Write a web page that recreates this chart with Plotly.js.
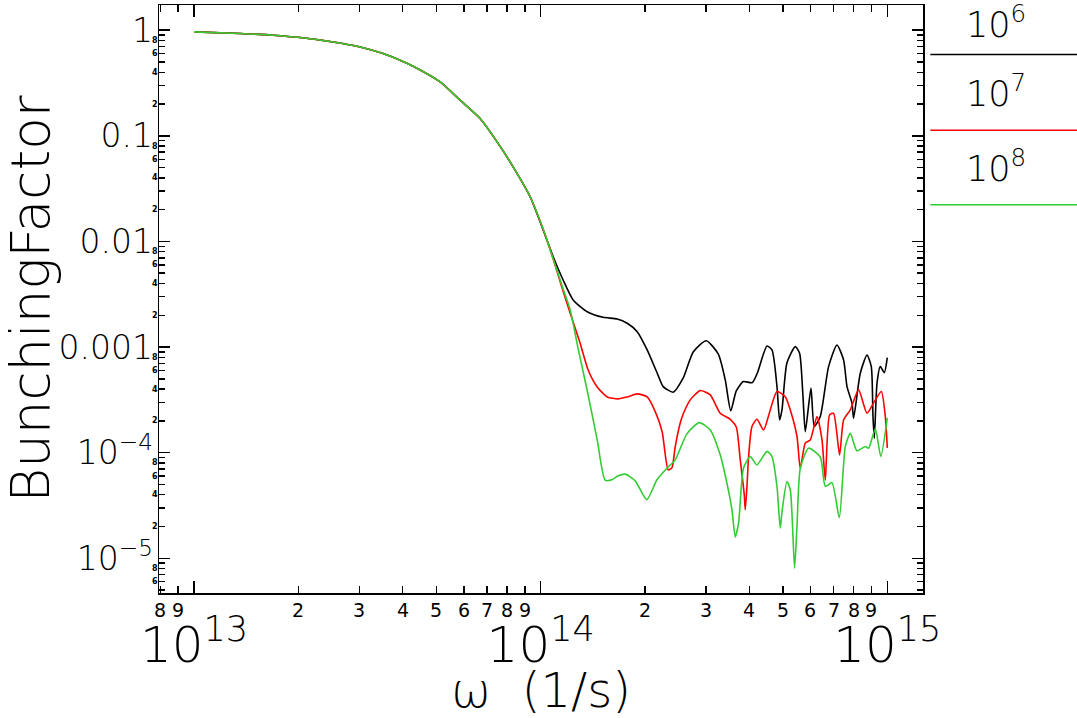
<!DOCTYPE html>
<html>
<head>
<meta charset="utf-8">
<script src="https://cdn.plot.ly/plotly-3.0.1.min.js"></script>
<style>
  html, body { margin: 0; padding: 0; background: #fff; }
  #chart { width: 1077px; height: 718px; }
</style>
</head>
<body>
<div id="chart"></div>
<script>
// low-frequency part, the three curves lie on top of each other here
const omegaCommon = [1.000e13, 1.358e13, 1.690e13, 2.023e13, 2.519e13, 3.014e13, 3.512e13, 3.931e13,
                     4.286e13, 5.129e13, 5.857e13, 6.690e13, 7.489e13, 8.328e13, 9.327e13];
const bunchCommon = [0.964, 0.931, 0.897, 0.853, 0.775, 0.695, 0.602, 0.520,
                     0.456, 0.324, 0.2176, 0.1461, 0.0877, 0.0509, 0.0265];

// 10^6 (black)
const omega6 = [1.017e14, 1.087e14, 1.161e14, 1.241e14, 1.362e14, 1.515e14, 1.663e14, 1.777e14, 1.899e14, 2.029e14,
                2.169e14, 2.257e14, 2.412e14, 2.578e14, 2.755e14, 3.004e14, 3.253e14, 3.408e14, 3.535e14, 3.667e14,
                3.841e14, 4.078e14, 4.216e14, 4.497e14, 4.649e14, 4.806e14, 4.890e14, 4.968e14, 5.135e14, 5.427e14,
                5.584e14, 5.712e14, 5.800e14, 6.024e14, 6.157e14, 6.408e14, 6.771e14, 7.159e14, 7.481e14, 7.652e14,
                7.910e14, 7.994e14, 8.358e14, 8.738e14, 8.991e14, 9.093e14, 9.173e14, 9.339e14, 9.545e14, 9.802e14,
                1.000e15];
const bunch6 = [0.01282, 0.00717, 0.004312, 0.002790, 0.002162, 0.001913, 0.001844, 0.001680, 0.001398, 0.000939,
                0.000565, 0.000422, 0.000374, 0.000510, 0.000899, 0.001149, 0.000860, 0.000488, 0.000249, 0.000384,
                0.000471, 0.000460, 0.000565, 0.001024, 0.000939, 0.000422, 0.000204, 0.000254, 0.000709, 0.001009,
                0.000874, 0.000339, 0.000158, 0.000408, 0.000177, 0.000220, 0.000653, 0.001047, 0.000755, 0.000422,
                0.000294, 0.000212, 0.000565, 0.000842, 0.000653, 0.000220, 0.000137, 0.000454, 0.000653, 0.000572,
                0.000794];

// 10^7 (red)
const omega7 = [1.017e14, 1.087e14, 1.151e14, 1.217e14, 1.300e14, 1.371e14, 1.456e14, 1.556e14, 1.674e14, 1.777e14,
                1.899e14, 2.029e14, 2.154e14, 2.242e14, 2.333e14, 2.391e14, 2.444e14, 2.526e14, 2.583e14, 2.701e14,
                2.886e14, 3.085e14, 3.296e14, 3.523e14, 3.667e14, 3.765e14, 3.867e14, 3.893e14, 3.937e14, 3.979e14,
                4.070e14, 4.207e14, 4.395e14, 4.596e14, 4.806e14, 5.077e14, 5.250e14, 5.488e14, 5.610e14, 5.800e14,
                5.995e14, 6.269e14, 6.481e14, 6.625e14, 6.817e14, 6.998e14, 7.283e14, 7.481e14, 7.821e14, 8.264e14,
                8.738e14, 9.131e14, 9.610e14, 9.868e14, 1.000e15];
const bunch7 = [0.01296, 0.006818, 0.003703, 0.002089, 0.001086, 0.000607, 0.000419, 0.000337, 0.000323, 0.000337,
                0.000360, 0.000337, 0.000233, 0.000157, 6.88e-5, 7.18e-5, 1.135e-4, 1.90e-4, 2.36e-4, 3.16e-4,
                3.87e-4, 3.52e-4, 2.36e-4, 2.07e-4, 1.75e-4, 8.55e-5, 3.99e-5, 2.88e-5, 4.78e-5, 9.09e-5,
                1.77e-4, 2.07e-4, 1.64e-4, 2.54e-4, 3.79e-4, 3.39e-4, 2.54e-4, 1.43e-4, 7.12e-5, 1.23e-4,
                1.32e-4, 2.20e-4, 1.32e-4, 5.50e-5, 2.28e-4, 2.36e-4, 9.53e-5, 2.04e-4, 2.54e-4, 3.93e-4,
                2.36e-4, 2.96e-4, 3.79e-4, 2.20e-4, 1.11e-4];

// 10^8 (green)
const omega8 = [1.017e14, 1.087e14, 1.161e14, 1.217e14, 1.285e14, 1.362e14, 1.456e14, 1.535e14, 1.605e14, 1.674e14,
                1.754e14, 1.874e14, 2.023e14, 2.165e14, 2.313e14, 2.444e14, 2.642e14, 2.867e14, 3.085e14, 3.296e14,
                3.446e14, 3.563e14, 3.642e14, 3.723e14, 3.849e14, 4.024e14, 4.207e14, 4.497e14, 4.649e14, 4.806e14,
                4.912e14, 4.977e14, 5.135e14, 5.250e14, 5.402e14, 5.488e14, 5.610e14, 5.928e14, 6.408e14, 6.625e14,
                6.924e14, 7.270e14, 7.565e14, 7.821e14, 8.177e14, 8.641e14, 8.834e14, 9.235e14, 9.577e14, 1.000e15];
const bunch8 = [0.01310, 0.006818, 0.003546, 0.002244, 0.000939, 0.00039, 0.000132, 5.50e-5, 5.53e-5, 6.03e-5,
                6.26e-5, 5.41e-5, 3.58e-5, 5.53e-5, 7.12e-5, 8.55e-5, 1.506e-4, 1.926e-4, 1.643e-4, 9.53e-5,
                5.14e-5, 2.88e-5, 1.59e-5, 2.15e-5, 7.18e-5, 9.17e-5, 7.66e-5, 1.029e-4, 9.19e-5, 4.78e-5,
                1.93e-5, 2.88e-5, 5.33e-5, 4.45e-5, 8.06e-6, 2.00e-5, 7.12e-5, 1.103e-4, 9.09e-5, 4.78e-5,
                5.20e-5, 2.42e-5, 1.142e-4, 1.529e-4, 1.040e-4, 1.142e-4, 1.103e-4, 1.68e-4, 9.19e-5, 2.135e-4];

const seriesNames = ['10<sup>6</sup>', '10<sup>7</sup>', '10<sup>8</sup>'];
const seriesColors = ['#000000', '#ff0000', '#33cc33'];

// tick labels
const xMajorVals = [1e13, 1e14, 1e15];
const xMajorText = ['10<sup>13</sup>', '10<sup>14</sup>', '10<sup>15</sup>'];
const yMajorVals = [1, 0.1, 0.01, 0.001, 1e-4, 1e-5];
const yMajorText = ['1', '0.1', '0.01', '0.001', '10<sup>−4</sup>', '10<sup>−5</sup>'];
const minorDigits = [2, 3, 4, 5, 6, 7, 8, 9];
const yMinorLabelDigits = [2, 4, 6, 8];

const xRange = [12.899, 15.103];
const yRange = [-5.329, 0.239];

// minor ticks for log axes, only those inside the range
function minorTicks(decades, digits, range) {
    const vals = [];
    decades.forEach(function(d) {
        digits.forEach(function(k) {
            const v = k * Math.pow(10, d);
            const lv = Math.log10(v);
            if (lv > range[0] && lv < range[1]) vals.push(v);
        });
    });
    return vals;
}
function leadDigit(v) {
    return String(Math.round(v / Math.pow(10, Math.floor(Math.log10(v) + 1e-9))));
}
const xMinorVals = minorTicks([12, 13, 14, 15], minorDigits, xRange);
const yMinorVals = minorTicks([-6, -5, -4, -3, -2, -1, 0], minorDigits, yRange);
const yMinorLabelVals = minorTicks([-6, -5, -4, -3, -2, -1, 0], yMinorLabelDigits, yRange);

const tails = [[omega6, bunch6], [omega7, bunch7], [omega8, bunch8]];
const traces = tails.map(function(t, i) {
    return {
        x: omegaCommon.concat(t[0]),
        y: bunchCommon.concat(t[1]),
        type: 'scatter', mode: 'lines',
        name: seriesNames[i],
        line: {color: seriesColors[i], width: 1.6, shape: 'spline', smoothing: 0.6},
        showlegend: false
    };
});

const axisLine = {showline: true, linewidth: 1.5, linecolor: '#000', showgrid: false, zeroline: false};

// legend drawn by hand: label above a long line, right of the plot
const legendY = [0.9157, 0.7871, 0.6602];
const legendTextY = [0.971, 0.853, 0.727];
const shapes = seriesNames.map(function(n, i) {
    return {type: 'line', xref: 'paper', yref: 'paper', x0: 1.0096, x1: 1.203, y0: legendY[i], y1: legendY[i],
            line: {color: seriesColors[i], width: 1.6}};
});
const annotations = seriesNames.map(function(n, i) {
    return {text: n, xref: 'paper', yref: 'paper', x: 1.096, y: legendTextY[i], showarrow: false,
            xanchor: 'center', yanchor: 'middle', font: {size: 35}};
});

// small IDL style labels on minor ticks (log axes: annotation coords are log10)
xMinorVals.forEach(function(v) {
    annotations.push({text: leadDigit(v), xref: 'x', yref: 'paper', x: Math.log10(v), y: 0,
                      xanchor: 'center', yanchor: 'top', yshift: -4, showarrow: false,
                      font: {size: 19, weight: 400}});
});
yMinorLabelVals.forEach(function(v) {
    annotations.push({text: leadDigit(v), xref: 'paper', yref: 'y', x: 0, y: Math.log10(v),
                      xanchor: 'right', yanchor: 'middle', xshift: 1, showarrow: false,
                      font: {size: 8, weight: 700}});
});

const layout = {
    width: 1077, height: 718,
    margin: {l: 159, r: 154, t: 5, b: 125},
    paper_bgcolor: '#fff', plot_bgcolor: '#fff',
    font: {family: 'DejaVu Sans', weight: 200, color: '#000'},
    showlegend: false,
    xaxis: Object.assign({}, axisLine, {
        type: 'log', range: xRange, mirror: 'ticks',
        tickmode: 'array', tickvals: xMajorVals, ticktext: xMajorText,
        ticks: 'inside', ticklen: 12, tickwidth: 1.5, tickcolor: '#000',
        tickfont: {size: 50}, ticklabelstandoff: 7,
        minor: {tickmode: 'array', tickvals: xMinorVals, ticks: 'inside', ticklen: 7, tickwidth: 1.5, tickcolor: '#000'},
        title: {text: 'ω  (1/s)', font: {size: 48}, standoff: 0}
    }),
    yaxis: Object.assign({}, axisLine, {
        type: 'log', range: yRange, mirror: 'ticks',
        tickmode: 'array', tickvals: yMajorVals, ticktext: yMajorText,
        ticks: 'inside', ticklen: 11, tickwidth: 1.5, tickcolor: '#000',
        tickfont: {size: 33}, ticklabelstandoff: -2,
        minor: {tickmode: 'array', tickvals: yMinorVals, ticks: 'inside', ticklen: 6, tickwidth: 1.5, tickcolor: '#000'},
        title: {text: 'BunchingFactor', font: {size: 53}, standoff: 33}
    }),
    shapes: shapes,
    annotations: annotations
};

Plotly.newPlot('chart', traces, layout, {displayModeBar: false, staticPlot: true});
</script>
</body>
</html>
